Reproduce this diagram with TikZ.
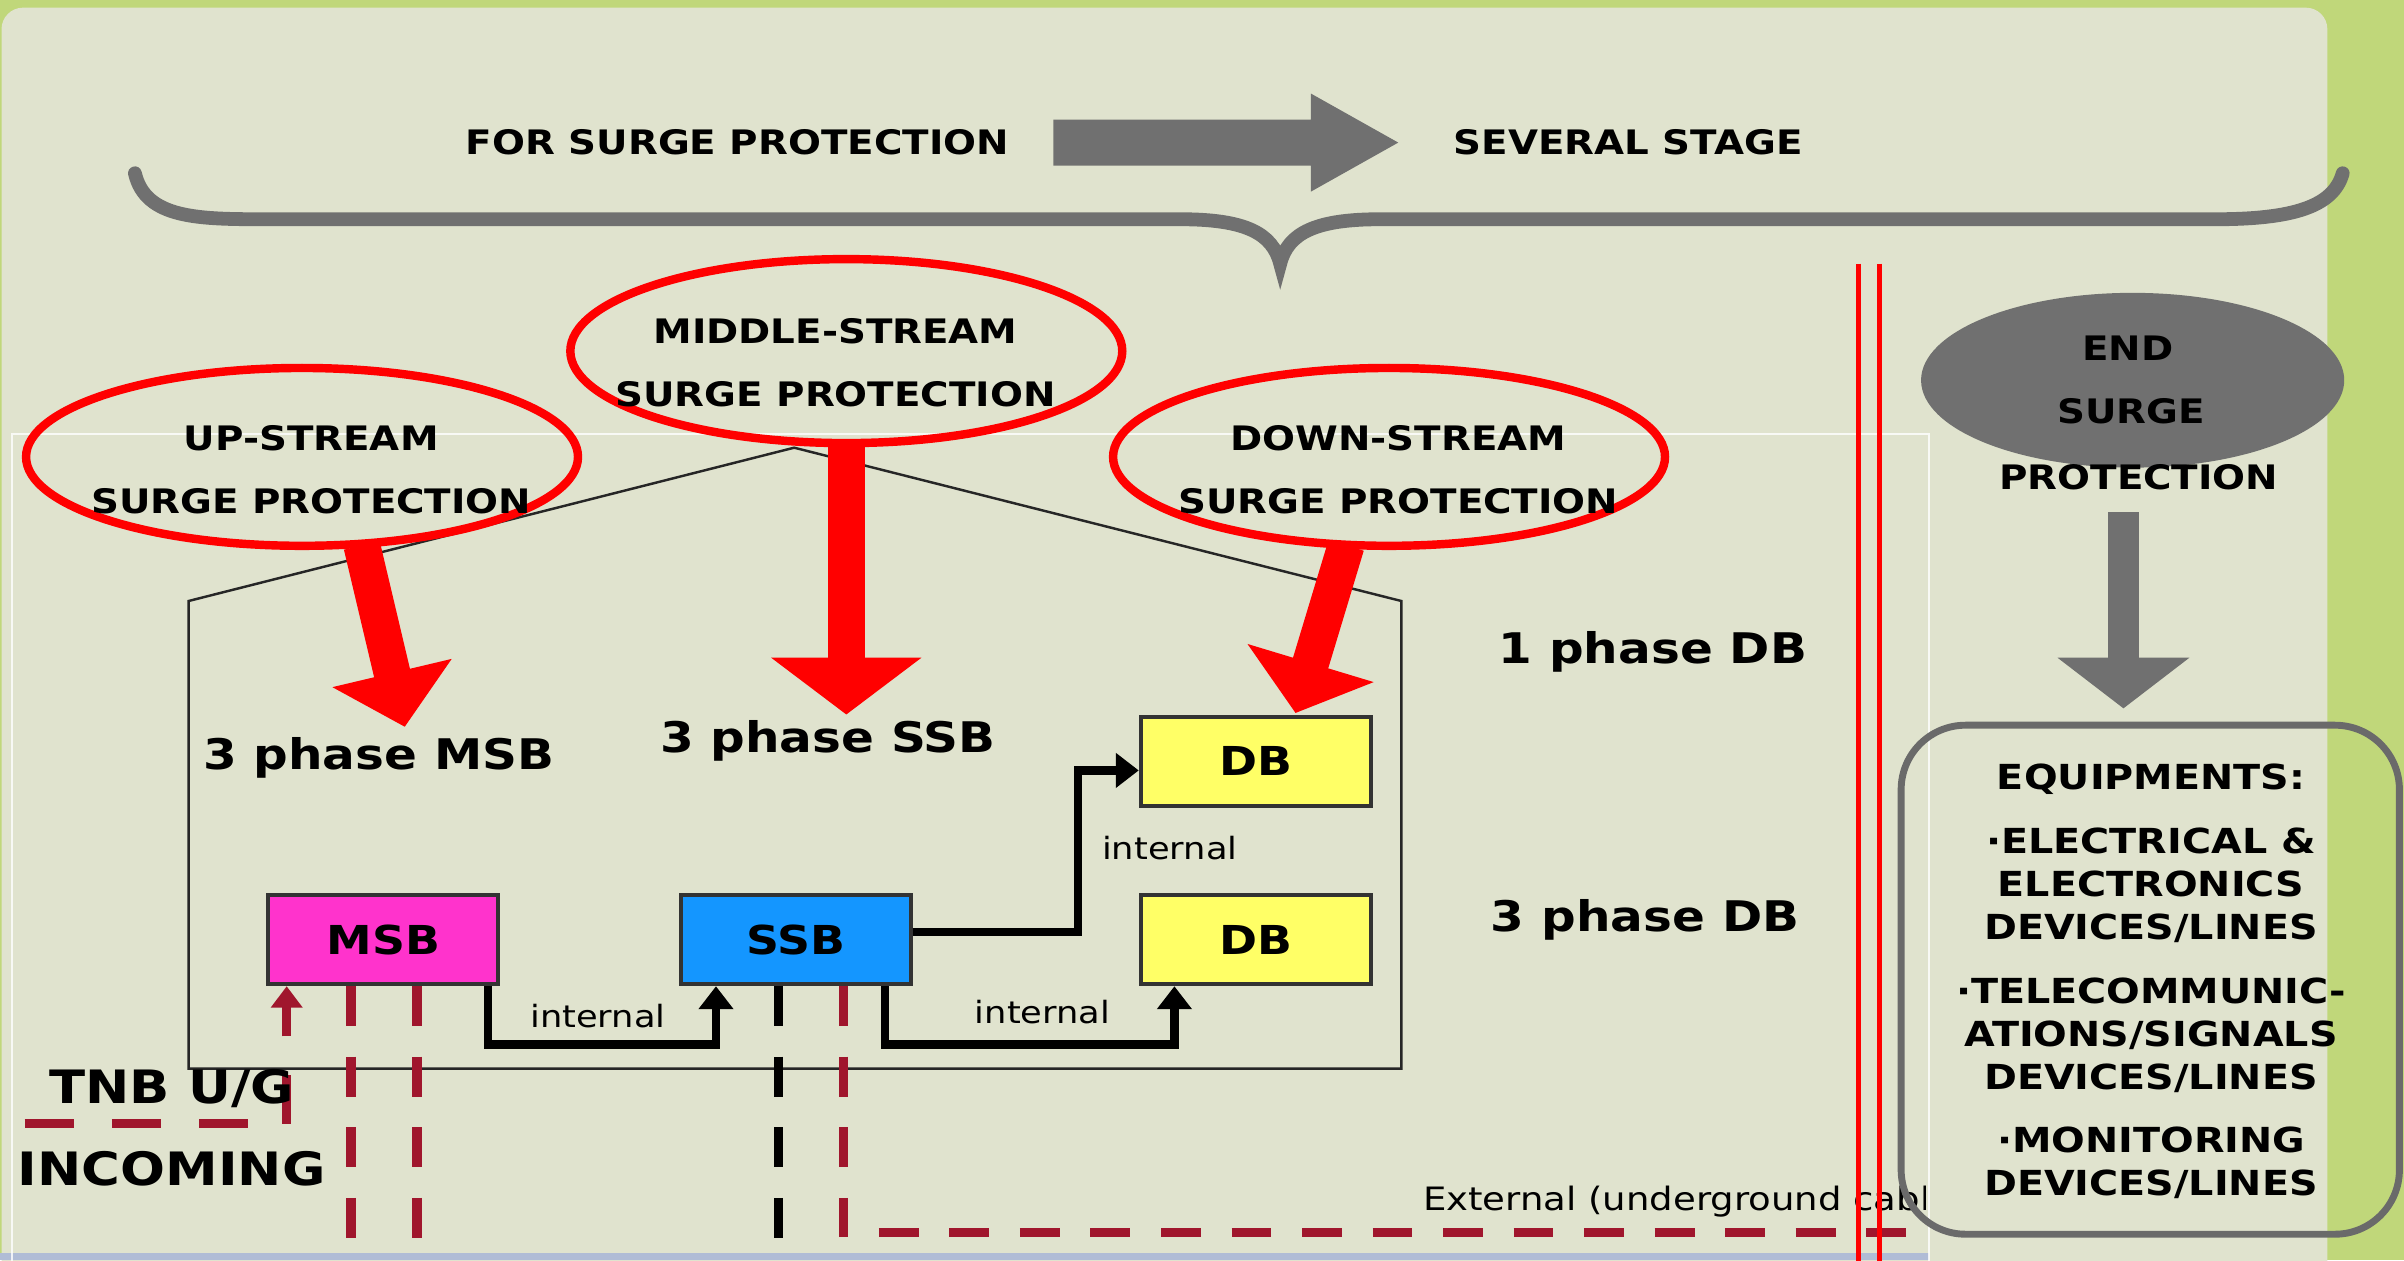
\documentclass[tikz,border=0pt]{standalone}
\usepackage{fontspec}
\setmainfont{DejaVu Sans}[FakeStretch=1.15]
\usetikzlibrary{shapes.geometric,calc,arrows.meta}
\definecolor{panelbg}{RGB}{224,227,206}
\definecolor{slidegreen}{RGB}{192,215,122}
\definecolor{arrowgray}{RGB}{112,112,112}
\definecolor{dashred}{RGB}{160,22,45}
\definecolor{msbmag}{RGB}{255,51,204}
\definecolor{ssbblue}{RGB}{20,150,255}
\definecolor{dbyellow}{RGB}{255,255,102}
\definecolor{bottomblue}{RGB}{176,188,214}
\begin{document}
\begin{tikzpicture}[x=1pt,y=-1pt,
  hdrtext/.style={font=\bfseries\fontsize{22}{26}\selectfont, inner sep=0pt},
  bigtext/.style={font=\bfseries\fontsize{27.5}{30}\selectfont, inner sep=0pt},
  tnbtext/.style={font=\bfseries\fontsize{30}{32}\selectfont, inner sep=0pt},
  eqtext/.style={font=\bfseries\fontsize{22.5}{28}\selectfont, align=center, inner sep=0pt},
  smalltext/.style={font=\fontsize{20}{24}\selectfont, inner sep=0pt},
  exttext/.style={font=\fontsize{21}{24}\selectfont, inner sep=0pt},
  redring/.style={ellipse, draw=red, line width=5.5pt, inner sep=0pt},
  panelbox/.style={draw=black!80, line width=2.5pt, minimum width=150pt, minimum height=58pt, inner sep=0pt, font=\bfseries\fontsize{26}{30}\selectfont},
  conn/.style={line width=5.5pt, black, -{Triangle[length=15pt,width=22pt]}},
  dashline/.style={line width=6pt, dash pattern=on 26pt off 20pt},
  redshaft/.style={red, line width=24pt},
]
\useasboundingbox (0,0) rectangle (1568,822);
% background
\fill[slidegreen] (0,0) rectangle (1568,822);
\fill[panelbg, rounded corners=14pt] (1,5) rectangle (1518,850);
\fill[bottomblue] (0,817) rectangle (1258,822);
% faint white frame
\draw[white, line width=1.5pt, opacity=0.8] (8,850) -- (8,283) -- (1258,283) -- (1258,850);

% brace
\draw[arrowgray, line width=9pt, line cap=round]
  (88,113) .. controls (95,143) and (130,143) .. (175,143) -- (770,143)
  .. controls (812,143) and (830,152) .. (835,172)
  .. controls (840,152) and (858,143) .. (900,143) -- (1445,143)
  .. controls (1495,143) and (1522,135) .. (1528,113);

% header
\node[hdrtext] (forsurge) at (481,93) {FOR SURGE PROTECTION};
\node[hdrtext] (several) at (1062,93) {SEVERAL STAGE};
\fill[arrowgray] (687,78) -- (855,78) -- (855,61) -- (912,93) -- (855,125) -- (855,108) -- (687,108) -- cycle;

% house
\draw[line width=1.6pt, black!85] (123,697) -- (123,392) -- (518,292) -- (914,392) -- (914,697) -- cycle;

% boxes
\node[panelbox, fill=msbmag] (msb) at (250,613) {MSB};
\node[panelbox, fill=ssbblue] (ssb) at (519,613) {SSB};
\node[panelbox, fill=dbyellow] (dbone) at (819,496.5) {DB};
\node[panelbox, fill=dbyellow] (dbthree) at (819,613) {DB};

% dashed cables
\draw[dashline, dashred] ([xshift=-21pt]msb.south) -- ++(0,190);
\draw[dashline, dashred] ([xshift=22pt]msb.south) -- ++(0,190);
\draw[dashline, black] ([xshift=-11pt]ssb.south) -- ++(0,190);
\coordinate (extcorner) at (550,804);
\coordinate (extend) at (1258,804);
\draw[dashline, dashred] ([xshift=31pt]ssb.south) -- (extcorner) -- (extend);
\coordinate (tnbstart) at (16,733);
\draw[dashline, dashred, dash pattern=on 32pt off 25pt, -{Triangle[length=14pt,width=20pt]}] (tnbstart) -- (187,733) -- ([xshift=-63pt]msb.south);

% internal connectors
\draw[conn] ([xshift=-8pt]msb.south east) -- ++(0,38) -| ([xshift=-52pt]ssb.south);
\draw[conn] ([xshift=-18pt]ssb.south east) -- ++(0,38) -| ([xshift=-53pt]dbthree.south);
\draw[conn] ([yshift=5pt]ssb.east) -- ++(108,0) |- ([yshift=-6pt]dbone.west);
\node[smalltext] (int1) at (390,663) {internal};
\node[smalltext] (int2) at (680,660) {internal};
\node[smalltext] (int3) at (763,553) {internal};

% labels
\node[bigtext] (lmsb) at (247,494) {3 phase MSB};
\node[bigtext] (lssb) at (540,483) {3 phase SSB};
\node[bigtext] (l1db) at (1078,425) {1 phase DB};
\node[bigtext] (l3db) at (1073,600) {3 phase DB};
\node[tnbtext] (tnb) at (112,710) {TNB U/G};
\node[tnbtext] (incoming) at (112,762) {INCOMING};

% external text (clipped at frame)
\begin{scope}
\clip (0,0) rectangle (1256,822);
\node[exttext, anchor=west] (ext) at (928,784) {External (underground cable)};
\end{scope}

% red rings
\node[redring, minimum width=360pt, minimum height=116pt] (up) at (197,298) {};
\node[redring, minimum width=360pt, minimum height=120pt] (mid) at (552,229) {};
\node[redring, minimum width=360pt, minimum height=116pt] (down) at (906,298) {};
\node[hdrtext] (uptxta) at (203,286) {UP-STREAM};
\node[hdrtext] (uptxtb) at (203,327) {SURGE PROTECTION};
\node[hdrtext] (midtxta) at (545,216) {MIDDLE-STREAM};
\node[hdrtext] (midtxtb) at (545,257) {SURGE PROTECTION};
\node[hdrtext] (dntxta) at (912,286) {DOWN-STREAM};
\node[hdrtext] (dntxtb) at (912,327) {SURGE PROTECTION};

% red arrows
\coordinate (s1) at ([xshift=39pt,yshift=3pt]up.south);
\coordinate (t1) at (264,474);
\draw[redshaft] (s1) -- ($(t1)!34pt!(s1)$);
\fill[red] (t1) -- ($(t1)!36pt!(s1)!40pt!90:(t1)$) -- ($(t1)!36pt!(s1)!40pt!-90:(t1)$) -- cycle;
\coordinate (s2) at ([yshift=3pt]mid.south);
\coordinate (t2) at (552,466);
\draw[redshaft] (s2) -- ($(t2)!35pt!(s2)$);
\fill[red] (t2) -- ($(t2)!37pt!(s2)!49pt!90:(t2)$) -- ($(t2)!37pt!(s2)!49pt!-90:(t2)$) -- cycle;
\coordinate (s3) at ([xshift=-28pt,yshift=3pt]down.south);
\coordinate (t3) at (845,465);
\draw[redshaft] (s3) -- ($(t3)!32pt!(s3)$);
\fill[red] (t3) -- ($(t3)!34pt!(s3)!43pt!90:(t3)$) -- ($(t3)!34pt!(s3)!43pt!-90:(t3)$) -- cycle;

% red double barrier
\draw[red, line width=3.5pt] (1212,172) -- (1212,830);
\draw[red, line width=3.5pt] (1226,172) -- (1226,830);

% end surge protection
\node[ellipse, fill=arrowgray, minimum width=276pt, minimum height=114pt, inner sep=0pt] (endp) at (1391,248) {};
\node[hdrtext] (endtxta) at (1388,227) {END};
\node[hdrtext] (endtxtb) at (1390,268) {SURGE};
\node[hdrtext] (endtxtc) at (1395,311) {PROTECTION};
\coordinate (g1) at (1385,334);
\coordinate (g2) at (1385,462);
\fill[arrowgray] ([xshift=-10pt]g1) rectangle ([xshift=10pt,yshift=33pt]g2);
\fill[arrowgray] (g2) -- ([xshift=-43pt,yshift=33pt]g2) -- ([xshift=43pt,yshift=33pt]g2) -- cycle;

% equipment box
\draw[arrowgray!95!black, line width=4.5pt, rounded corners=42pt] (1240,473) rectangle (1565,805);
\node[eqtext] (equip) at (1403,640) {EQUIPMENTS:\\[14pt]
·ELECTRICAL \&\\ELECTRONICS\\DEVICES/LINES\\[14pt]
·TELECOMMUNIC-\\ATIONS/SIGNALS\\DEVICES/LINES\\[13pt]
·MONITORING\\DEVICES/LINES};
\end{tikzpicture}
\end{document}
